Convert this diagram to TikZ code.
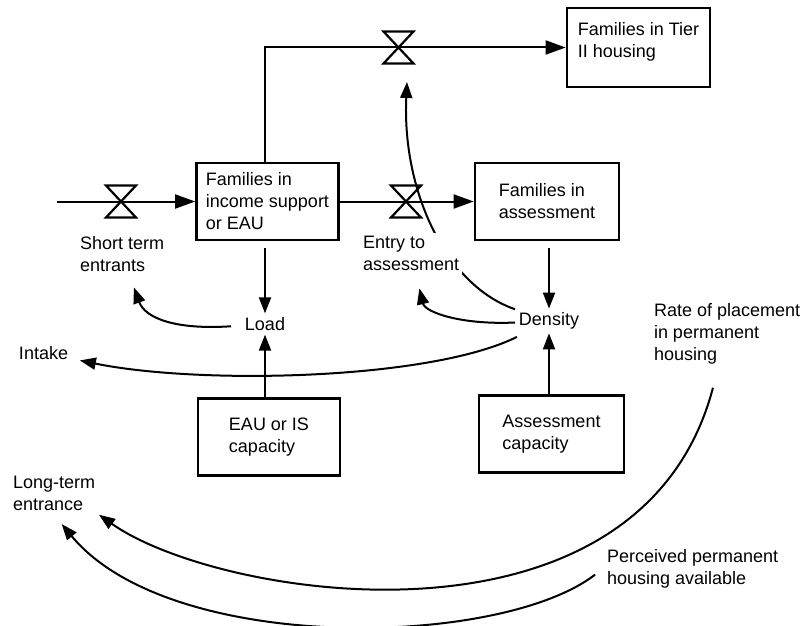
\documentclass[tikz,border=0pt]{standalone}
\usepackage{fontspec}
\setmainfont{Liberation Sans}
\usetikzlibrary{arrows.meta,backgrounds}

\begin{document}
\begin{tikzpicture}[x=1pt,y=-1pt,line width=2pt,
                    font=\fontsize{18}{22}\selectfont,
                    stock/.style={rectangle,draw,line width=2.7pt,minimum width=142pt,minimum height=77pt,align=left,inner sep=3pt},
                    aux/.style={align=left,inner sep=3pt},
                    flow/.style={line width=2pt,-{Triangle[length=20pt,width=14pt]}},
                    link/.style={line width=2pt,-{Triangle[length=16pt,width=12pt]}},
                    valve/.pic={\draw[line width=2.2pt,line join=miter] (-15,-16) -- (15,-16) -- (-15,16) -- (15,16) -- cycle;}]

  \useasboundingbox (0,0) rectangle (809,626);

  \node[stock] (income) at (267.5,201.5) {Families in\\income support\\or EAU};
  \node[stock,minimum width=144pt] (assess) at (547,201.5) {Families in\\assessment};
  \node[stock,minimum width=143pt,minimum height=79pt,text depth=16pt] (tier) at (638.5,47.5) {Families in Tier\\II housing};
  \node[stock] (eaucap) at (269,437) {EAU or IS\\capacity};
  \node[stock,minimum width=145pt] (asscap) at (551.5,434) {Assessment\\capacity};

  \node[aux] (load) at (265,324) {Load};
  \node[aux] (density) at (549,321) {Density};
  \node[aux,anchor=west] (short) at (76,254.5) {Short term\\entrants};
  \node[aux,anchor=west,fill=white] (entry) at (359,253.5) {Entry to\\assessment};
  \node[aux,anchor=west] (intake) at (15,353) {Intake};
  \node[aux,anchor=west] (longterm) at (9,493.5) {Long-term\\entrance};
  \node[aux,anchor=west] (rate) at (650,334) {Rate of placement\\in permanent\\housing};
  \node[aux,anchor=west] (perceived) at (603,568.5) {Perceived permanent\\housing available};

  \coordinate (src) at (57,201.5);
  \coordinate (v1) at (121,201.5);
  \coordinate (v2) at (406,201.5);
  \coordinate (v3) at (398.5,47.5);
  \coordinate (v3in) at (407,82);

  \draw[flow] (src) -- (income);
  \draw[flow] (income) -- (assess);
  \draw[flow] (income.north -| load) |- (tier);
  \pic at (v1) {valve};
  \pic at (v2) {valve};
  \pic at (v3) {valve};

  \draw[link,shorten <=7pt] (income.south -| load) -- (load);
  \draw[link,shorten <=7pt] (assess.south -| density) -- (density);
  \draw[link] (eaucap.north -| load) -- (load);
  \draw[link] (asscap.north -| density) -- (density);

  \draw[link,shorten <=10pt,shorten >=12pt] (load) .. controls (175,330) and (145,318) .. (short);
  \draw[link,shorten >=14pt] (density) .. controls (460,325) and (425,312) .. (entry);
  \draw[link,shorten <=8pt,shorten >=8pt] (density) .. controls (430,380) and (200,385) .. (intake);
  \draw[link,shorten <=20pt] (rate) .. controls (640,665) and (220,600) .. (longterm.south east);
  \draw[link,shorten <=10pt,shorten >=12pt] (perceived.west) .. controls (500,648) and (170,655) .. (longterm.south);
  \begin{scope}[on background layer]
    \draw[link] (density) .. controls (445,285) and (402,190) .. (v3in);
  \end{scope}
\end{tikzpicture}
\end{document}
